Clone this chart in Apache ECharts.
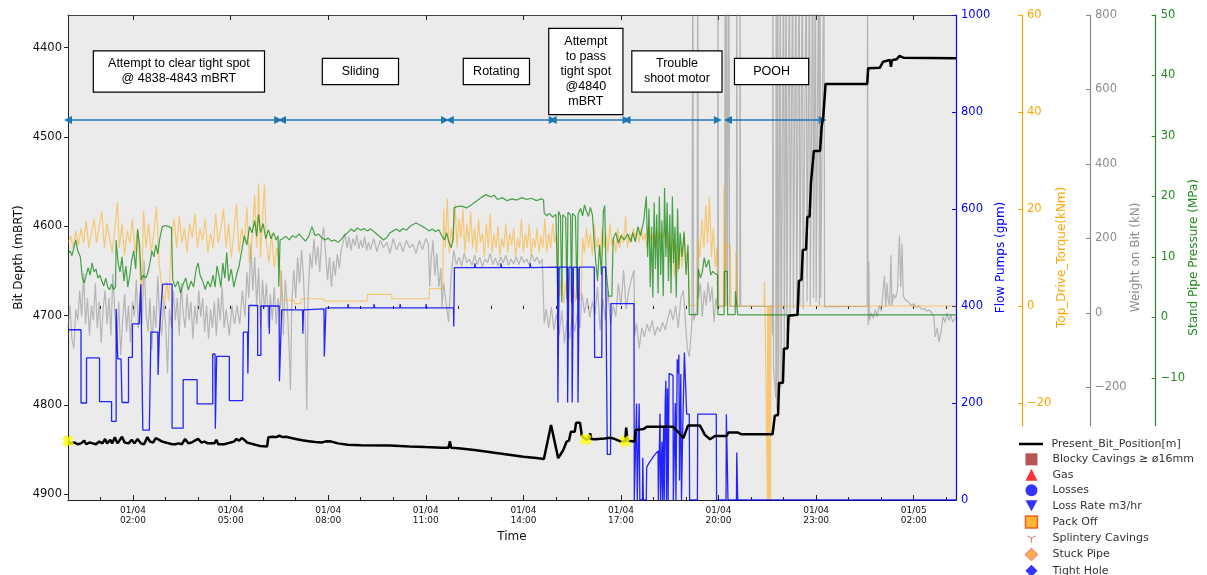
<!DOCTYPE html>
<html>
<head>
<meta charset="utf-8">
<script src="https://cdn.jsdelivr.net/npm/echarts@6/dist/echarts.min.js"></script>
<style>
html, body { margin: 0; padding: 0; background: #fff; }
#root { width: 1207px; height: 575px; }
</style>
</head>
<body>
<div id="root"></div>
<script>
// x values are hours since 01/04 00:00
const timeTicks = [2, 5, 8, 11, 14, 17, 20, 23, 26];
const depthTicks = [4400, 4500, 4600, 4700, 4800, 4900];
const torqueTicks = [-20, 0, 20, 40, 60];
const wobTicks = [-200, 0, 200, 400, 600, 800];
const sppTicks = [-10, 0, 10, 20, 30, 40, 50];

const bitPosition = [
  [0,4841],[0.1,4843],[0.2,4842],[0.3,4844],[0.4,4843],[0.5,4840],[0.56,4844],[0.66,4842],[0.76,4843],[0.86,4844],
  [0.96,4841],[1.06,4843],[1.14,4838],[1.2,4843],[1.3,4839],[1.36,4843],[1.44,4836],[1.52,4843],[1.58,4840],[1.66,4835.5],
  [1.74,4842],[1.86,4843],[1.96,4839],[2.04,4843],[2.14,4838],[2.24,4843],[2.34,4844],[2.44,4836],[2.52,4841],[2.62,4842],
  [2.7,4837],[2.8,4839],[2.9,4841],[3,4842],[3.1,4843],[3.2,4844],[3.3,4844],[3.4,4843],[3.5,4844],[3.6,4838],
  [3.7,4843],[3.8,4842],[3.9,4840],[4,4838],[4.1,4842],[4.2,4841],[4.3,4843],[4.4,4843],[4.5,4843],[4.56,4839],
  [4.62,4844],[4.8,4844],[4.9,4843],[5,4842],[5.1,4841],[5.18,4838],[5.26,4840],[5.34,4837],[5.42,4839],[5.5,4842],
  [5.6,4843],[5.7,4844],[5.8,4845],[5.9,4846],[6.12,4846.5],[6.16,4836],[6.3,4835.5],[6.4,4836],[6.5,4834.5],[6.6,4836],
  [6.7,4835.5],[6.8,4836.5],[7,4838],[7.2,4839.5],[7.4,4840.5],[7.6,4841.5],[7.8,4842],[7.9,4841],[8,4840.5],[8.1,4841],
  [8.3,4843],[8.6,4844.5],[9,4845.2],[9.9,4845.5],[10.5,4846.5],[11,4847.2],[11.5,4847.8],[11.7,4848],[11.74,4840.5],[11.78,4848],
  [12,4848.5],[12.5,4850.5],[13,4853],[13.5,4855.5],[14,4858],[14.4,4859.5],[14.63,4860.4],[14.85,4822.4],[15.07,4859.6],[15.12,4858],
  [15.22,4851],[15.28,4850],[15.33,4841],[15.4,4840],[15.46,4830],[15.58,4829.9],[15.62,4820],[15.74,4819.8],[15.8,4835],[15.92,4838.4],
  [16,4838],[16.05,4831.7],[16.09,4838],[16.2,4838.4],[16.5,4837.5],[16.68,4836.7],[16.8,4838],[16.98,4840.7],[17.13,4840.7],[17.16,4825.4],
  [17.2,4840],[17.42,4841],[17.45,4828],[17.7,4826.8],[17.8,4824.3],[18.6,4824.3],[18.75,4830],[18.92,4837.2],[19.06,4823.1],[19.43,4823.1],
  [19.58,4833.5],[19.74,4838.4],[19.89,4834.8],[20.25,4834.8],[20.3,4830.9],[20.6,4830.9],[20.7,4832.8],[21.66,4832.8],[21.73,4812],[21.83,4811],
  [21.86,4775.5],[21.98,4775],[22.01,4737],[22.12,4736.5],[22.15,4700],[22.43,4699],[22.47,4661],[22.55,4660],[22.59,4626.5],[22.69,4626],
  [22.73,4589.5],[22.8,4589],[22.84,4552],[22.9,4551.8],[22.93,4515.6],[23.12,4515.6],[23.17,4488.4],[23.22,4477.2],[23.29,4440.6],[24.57,4440.6],
  [24.6,4423.1],[24.96,4422.4],[25.06,4415.7],[25.27,4413.8],[25.3,4421.3],[25.33,4414],[25.47,4413],[25.56,4409.3],[25.68,4411.2],[27.3,4411.9]
];

const flowPumps = [
  [0,351],[0.4,351],[0.4,200],[0.57,200],[0.57,293],[0.97,293],[0.97,203],[1.34,203],[1.34,162],[1.48,162],
  [1.48,394],[1.53,394],[1.53,291],[1.63,291],[1.66,201],[1.86,201],[1.86,294],[1.98,294],[1.98,363],[2.19,363],
  [2.24,445],[2.28,445],[2.3,144],[2.5,144],[2.55,346],[2.76,346],[2.77,258],[2.8,258],[2.81,346],[2.86,346],
  [2.91,445],[3.2,445],[3.2,148],[3.54,148],[3.54,248],[3.97,248],[3.97,198],[4.45,198],[4.45,301],[4.52,301],
  [4.53,147],[4.56,147],[4.57,296],[4.96,296],[4.96,205],[5.37,205],[5.39,346],[5.52,346],[5.53,261],[5.55,261],
  [5.56,401],[5.83,401],[5.83,298],[5.93,298],[5.93,400],[6.18,400],[6.19,343],[6.2,400],[6.49,400],[6.5,245],
  [6.56,245],[6.57,392],[7.21,392],[7.22,343],[7.24,392],[7.26,394],[7.87,394],[7.88,296],[7.92,296],[7.93,396],
  [8.6,396],[8.61,404],[8.63,396],[9.4,396],[9.41,404],[9.43,396],[10.2,396],[10.21,404],[10.23,396],[11,396],
  [11.01,404],[11.03,396],[11.85,396],[11.86,358],[11.87,358],[11.88,479],[12.5,479],[12.51,488],[12.53,479],[13.3,479],
  [13.31,488],[13.33,479],[14.2,479],[14.21,488],[14.23,479],[15.05,480],[15.06,201],[15.09,201],[15.1,480],[15.35,480],
  [15.36,201],[15.39,201],[15.4,480],[15.49,480],[15.5,201],[15.53,201],[15.54,480],[15.67,480],[15.68,201],[15.71,201],
  [15.72,480],[16.18,480],[16.19,294],[16.41,294],[16.42,480],[16.53,480],[16.58,94],[16.68,94],[16.69,405],[17.4,405],
  [17.41,0],[17.47,0],[17.48,199],[17.5,0],[17.55,0],[17.56,199],[17.58,0],[17.66,0],[17.67,87],[17.69,0],
  [17.78,0],[17.79,67],[17.85,75],[17.9,80],[17.95,85],[18,90],[18.06,95],[18.14,101],[18.15,0],[18.19,0],
  [18.2,178],[18.22,0],[18.25,0],[18.26,120],[18.28,0],[18.31,150],[18.33,0],[18.36,200],[18.38,246],[18.4,0],
  [18.43,230],[18.45,0],[18.48,261],[18.5,257],[18.6,257],[18.61,0],[18.66,0],[18.67,200],[18.69,0],[18.73,290],
  [18.76,261],[18.78,300],[18.8,40],[18.84,260],[18.86,0],[18.9,150],[18.95,304],[19,300],[19.02,177],[19.1,177],
  [19.11,0],[19.35,0],[19.36,177],[19.93,177],[19.94,0],[20.23,0],[20.24,177],[20.28,177],[20.29,0],[20.55,0],
  [20.56,98],[20.58,98],[20.59,0],[27.3,0]
];

const topDriveTorque = [
  [0,13],[0.08,14.5],[0.16,12],[0.24,15.5],[0.32,12.5],[0.4,16],[0.48,13],[0.56,17.5],[0.64,12],[0.72,15],
  [0.8,18],[0.88,13],[0.96,16.5],[1.04,19.5],[1.12,12],[1.2,17],[1.28,14],[1.36,11],[1.44,16],[1.52,21.4],
  [1.58,12],[1.66,17],[1.74,10.5],[1.82,15.5],[1.9,13],[1.98,18],[2.06,11],[2.14,16],[2.22,7],[2.26,0.5],
  [2.32,19.6],[2.4,12],[2.48,17],[2.56,11],[2.64,15],[2.72,20.5],[2.8,9],[2.88,4],[2.96,0.5],[3.04,5],
  [3.1,1],[3.18,14],[3.26,18],[3.34,12],[3.42,18.5],[3.5,13],[3.58,16],[3.66,11],[3.74,17],[3.82,14],
  [3.9,19],[3.98,12],[4.06,16],[4.14,13.5],[4.22,18],[4.3,11],[4.38,15],[4.46,12],[4.54,19],[4.62,13],
  [4.7,16],[4.78,20],[4.86,12],[4.94,17],[5.02,10],[5.1,15],[5.18,21],[5.26,11],[5.34,16],[5.42,13],
  [5.5,20.4],[5.58,9],[5.66,14],[5.74,23],[5.8,12],[5.86,25.2],[5.92,10],[5.98,18],[6.04,25],[6.1,13],
  [6.18,9],[6.26,15],[6.34,8],[6.42,12],[6.5,9],[6.56,4],[6.6,1.2],[6.95,1.2],[6.96,0.5],[7.16,0.5],
  [7.17,1.5],[7.87,1.5],[7.88,1],[9.2,1],[9.21,2.4],[9.95,2.4],[9.96,1.5],[11.1,1.5],[11.11,3.6],[11.52,3.6],
  [11.55,20],[11.6,12],[11.66,22.2],[11.72,11],[11.78,16],[11.84,13],[11.9,21],[11.96,12],[12.02,18],[12.08,14],
  [12.14,20],[12.2,11],[12.26,17],[12.32,13],[12.38,19.5],[12.44,12],[12.5,16],[12.56,11],[12.62,18],[12.68,13],
  [12.74,15],[12.8,10],[12.86,17],[12.92,12],[12.98,19],[13.04,11],[13.1,15],[13.16,12],[13.22,16.5],[13.28,10.5],
  [13.34,14],[13.4,12],[13.46,17],[13.52,11],[13.58,15],[13.64,12.5],[13.7,16],[13.76,10],[13.82,14],[13.88,12],
  [13.94,18],[14,11],[14.06,15],[14.12,12],[14.18,17],[14.24,10.5],[14.3,14],[14.36,12],[14.42,16],[14.48,11],
  [14.54,14.5],[14.6,12],[14.66,18],[14.72,11],[14.78,15],[14.84,12],[14.9,17],[14.96,13],[15.02,15],[15.06,7],
  [15.12,2],[15.18,6],[15.24,0.5],[15.3,5],[15.36,1],[15.42,7],[15.48,0.5],[15.54,4],[15.6,0.8],[15.66,6],
  [15.72,1],[15.78,3],[15.82,14],[15.88,11],[15.94,16],[16,12],[16.06,15],[16.12,10.5],[16.18,17],[16.24,12],
  [16.3,14],[16.36,10],[16.42,16],[16.48,12],[16.54,15],[16.6,11],[16.66,17],[16.72,12.5],[16.78,14],[16.84,11],
  [16.9,16],[16.96,12],[17.02,15],[17.08,13],[17.14,18.5],[17.2,12],[17.26,15],[17.32,13],[17.38,16],[17.44,14],
  [17.5,15.5],[17.56,13],[17.62,16],[17.68,13.5],[17.74,15],[17.8,12],[17.86,16.5],[17.92,13],[17.98,15],[18.04,12],
  [18.1,16],[18.16,13],[18.22,15],[18.28,14],[18.34,16],[18.4,12],[18.46,15],[18.52,9],[18.58,14],[18.64,6],
  [18.7,13],[18.76,7],[18.82,12],[18.88,8],[18.94,15],[19,10],[19.06,11],[19.1,0.1],[19.35,0.1],[19.37,14],
  [19.43,10],[19.49,18],[19.55,12],[19.61,20.8],[19.66,13],[19.72,22.5],[19.78,10],[19.84,16],[19.9,8],[19.95,12],
  [19.97,0],[20.15,0],[20.17,24.9],[20.2,0],[20.22,12.5],[20.36,12.5],[20.38,0],[20.53,0],[20.54,11.1],[20.57,0],
  [21.4,0],[21.41,5],[21.43,0],[21.49,0],[21.5,-40],[21.51,0],[21.52,-40],[21.53,0],[21.54,-40],[21.55,0],
  [21.56,-40],[21.57,0],[21.58,-40],[21.59,0],[21.6,-40],[21.61,0],[27.3,0]
];

const weightOnBit = [
  [0,-40],[0.06,20],[0.12,-70],[0.18,-95],[0.24,10],[0.3,-20],[0.36,60],[0.42,-10],[0.48,107],[0.54,-30],
  [0.6,40],[0.66,-60],[0.72,20],[0.78,-20],[0.84,80],[0.9,-40],[0.96,30],[1.02,-80],[1.08,10],[1.14,60],
  [1.2,-30],[1.26,40],[1.32,-60],[1.38,105],[1.44,0],[1.5,-70],[1.56,30],[1.62,-113],[1.68,-20],[1.74,50],
  [1.8,-50],[1.86,20],[1.92,-80],[1.98,30],[2.04,-10],[2.1,90],[2.16,-40],[2.22,60],[2.28,-30],[2.34,141],
  [2.4,0],[2.46,-50],[2.52,40],[2.58,-100],[2.64,20],[2.7,-40],[2.76,100],[2.82,-20],[2.88,-60],[2.94,30],
  [3,-30],[3.06,-162],[3.12,10],[3.18,-40],[3.24,60],[3.3,-20],[3.36,40],[3.42,-60],[3.48,80],[3.54,0],
  [3.6,-40],[3.66,50],[3.72,-20],[3.78,30],[3.84,-70],[3.9,20],[3.96,-30],[4.02,60],[4.08,-10],[4.14,40],
  [4.2,-50],[4.26,20],[4.32,-70],[4.38,10],[4.44,-40],[4.5,30],[4.56,-60],[4.62,40],[4.68,-20],[4.74,70],
  [4.8,-40],[4.86,10],[4.96,-60],[5.04,20],[5.12,-30],[5.2,20],[5.28,-30],[5.36,60],[5.44,-10],[5.5,110],
  [5.56,40],[5.62,187],[5.68,60],[5.74,150],[5.8,20],[5.86,120],[5.92,-38],[5.98,90],[6.04,10],[6.1,80],
  [6.16,-40],[6.22,50],[6.28,-20],[6.34,70],[6.4,-30],[6.46,40],[6.52,-10],[6.56,115],[6.62,-60],[6.68,90],
  [6.74,20],[6.8,-100],[6.84,-207],[6.88,30],[6.94,115],[7,40],[7.06,150],[7.12,80],[7.18,170],[7.24,100],
  [7.3,-50],[7.34,-261],[7.38,40],[7.44,160],[7.5,120],[7.56,200],[7.62,130],[7.68,180],[7.74,110],[7.8,200],
  [7.86,230],[7.92,160],[7.98,88],[8.04,150],[8.1,70],[8.16,140],[8.22,100],[8.28,159],[8.34,120],[8.4,170],
  [8.46,190],[8.52,214],[8.58,175],[8.64,205],[8.7,168],[8.76,200],[8.82,180],[8.88,210],[8.94,172],[9,195],
  [9.06,175],[9.12,205],[9.18,168],[9.24,190],[9.3,170],[9.4,200],[9.5,165],[9.6,195],[9.7,175],[9.8,190],
  [9.9,160],[10,200],[10.1,170],[10.2,190],[10.3,165],[10.4,195],[10.5,175],[10.6,185],[10.7,160],[10.8,195],
  [10.9,170],[11,200],[11.08,185],[11.12,70],[11.16,140],[11.22,195],[11.28,100],[11.34,160],[11.4,70],[11.46,120],
  [11.5,16],[11.55,80],[11.62,30],[11.7,-24],[11.78,100],[11.86,168],[11.94,130],[12.02,150],[12.1,125],[12.18,160],
  [12.26,135],[12.34,145],[12.42,128],[12.5,155],[12.58,130],[12.66,150],[12.74,124],[12.82,145],[12.9,135],[12.98,160],
  [13.06,130],[13.14,148],[13.22,126],[13.3,150],[13.38,135],[13.46,155],[13.54,128],[13.62,145],[13.7,132],[13.78,150],
  [13.86,130],[13.94,152],[14.02,135],[14.1,145],[14.18,128],[14.26,158],[14.34,138],[14.42,150],[14.5,132],[14.58,145],
  [14.62,140],[14.64,-28],[14.7,10],[14.78,-40],[14.86,16],[14.94,-46],[15.02,0],[15.1,-60],[15.18,7],[15.26,-82],
  [15.34,-20],[15.42,-70],[15.5,-10],[15.58,-50],[15.66,0],[15.74,-40],[15.8,53],[15.88,0],[15.96,40],[16.04,-11],
  [16.12,30],[16.2,-5],[16.28,70],[16.36,-46],[16.44,40],[16.52,-20],[16.6,60],[16.68,-30],[16.76,20],[16.84,-10],
  [16.92,80],[17,20],[17.08,115],[17.16,10],[17.24,60],[17.32,90],[17.4,115],[17.42,-60],[17.48,-28],[17.56,-96],
  [17.64,-40],[17.72,-64],[17.8,-30],[17.88,-50],[17.96,-20],[18.04,-60],[18.12,-37],[18.2,-50],[18.28,-25],[18.36,-45],
  [18.44,-15],[18.52,10],[18.6,-20],[18.68,20],[18.76,-40],[18.84,40],[18.92,60],[18.98,-20],[19.04,-95],[19.1,-118],
  [19.18,-30],[19.21,1000],[19.23,-20],[19.34,10],[19.36,1000],[19.38,40],[19.44,80],[19.5,-10],[19.56,60],[19.62,20],
  [19.68,83],[19.74,30],[19.8,70],[19.86,-24],[19.92,40],[19.97,10],[19.98,1000],[20,18],[20.19,18],[20.2,1000],
  [20.22,18],[20.25,1000],[20.27,18],[20.32,1000],[20.34,18],[20.55,18],[20.56,1000],[20.58,18],[20.65,18],[20.66,1000],
  [20.68,18],[21.64,18],[21.66,-60],[21.67,1000],[21.69,-150],[21.76,-229],[21.77,1000],[21.79,-260],[21.82,1000],[21.84,-280],
  [21.9,1000],[21.92,-200],[22,1000],[22.02,-120],[22.08,1000],[22.1,-60],[22.18,1000],[22.2,-20],[22.28,1000],[22.3,10],
  [22.38,1000],[22.4,0],[22.48,1000],[22.5,20],[22.58,1000],[22.6,10],[22.7,1000],[22.72,30],[22.8,1000],[22.82,20],
  [22.9,1000],[22.92,40],[22.98,1000],[23,30],[23.08,1000],[23.1,20],[23.12,1000],[23.14,40],[23.24,1000],[23.26,17],
  [24.57,18],[24.58,1000],[24.6,-33],[24.62,137],[24.64,-20],[24.7,0],[24.76,-15],[24.82,10],[24.88,-10],[24.94,20],
  [25,5],[25.06,60],[25.1,100],[25.14,16],[25.18,80],[25.22,30],[25.26,20],[25.3,155],[25.33,20],[25.38,50],
  [25.44,40],[25.5,60],[25.56,209],[25.6,70],[25.64,186],[25.68,45],[25.76,34],[25.84,30],[25.92,20],[26,25],
  [26.08,15],[26.16,20],[26.24,10],[26.32,12],[26.4,5],[26.48,8],[26.56,0],[26.62,-10],[26.66,-64],[26.72,-40],
  [26.78,-78],[26.84,-50],[26.9,-10],[26.96,-25],[27.02,0],[27.08,-20],[27.14,-5],[27.2,-25],[27.3,-10]
];

const standPipePressure = [
  [0,10.5],[0.06,11],[0.12,10.2],[0.18,11.5],[0.24,12.8],[0.3,11],[0.38,10],[0.44,6.5],[0.5,5.7],[0.56,7],
  [0.62,8.2],[0.68,7],[0.74,9],[0.8,7.5],[0.86,8],[0.92,6.5],[0.98,7],[1.04,6],[1.1,5.2],[1.16,6.5],
  [1.22,5],[1.28,4.6],[1.34,5.5],[1.4,4.6],[1.46,5],[1.48,12.8],[1.54,9],[1.6,7.5],[1.66,10],[1.72,6],
  [1.78,8.5],[1.84,5],[1.9,7],[1.96,9.5],[2.02,11],[2.08,8],[2.14,14.5],[2.2,12],[2.25,6.2],[2.32,7],
  [2.4,6.5],[2.46,7.5],[2.52,9],[2.58,11],[2.64,10],[2.7,12],[2.76,10.5],[2.82,13],[2.9,15],[3,15.2],
  [3.1,15],[3.18,14.8],[3.22,6.2],[3.3,5],[3.38,6],[3.46,4],[3.54,5.5],[3.62,6.5],[3.7,4.5],[3.78,6],
  [3.86,5],[3.94,8],[4,9],[4.06,7],[4.14,6],[4.22,4.6],[4.3,6],[4.38,5],[4.46,7],[4.52,5],
  [4.58,8.5],[4.64,7],[4.7,5],[4.76,9],[4.82,6.5],[4.88,10.7],[4.94,6],[5.02,8],[5.1,5],[5.18,7],
  [5.26,8.5],[5.34,11],[5.42,13.5],[5.5,12],[5.58,15],[5.66,14],[5.74,16],[5.8,13.4],[5.86,17],[5.92,14],
  [6,15.5],[6.08,13],[6.16,14.5],[6.24,13],[6.32,14],[6.4,12.8],[6.46,13.5],[6.48,5.1],[6.52,12.8],[6.6,13],
  [6.7,13.4],[6.8,12.8],[6.9,13.5],[7,13.2],[7.1,13.8],[7.2,13.2],[7.3,12.6],[7.4,13.4],[7.5,15],[7.6,13.5],
  [7.7,13.8],[7.8,13.2],[7.9,12.8],[8,13.1],[8.1,12.6],[8.2,12.8],[8.3,12.4],[8.4,12.9],[8.5,13.6],[8.6,14],
  [8.7,14.6],[8.8,14.2],[8.9,14.8],[9,14.4],[9.1,14.7],[9.2,14.3],[9.3,14.6],[9.4,14.2],[9.55,13.5],[9.7,12.8],
  [9.8,13.2],[9.9,14],[10,14.3],[10.1,14.6],[10.2,14.2],[10.3,14.7],[10.4,14.4],[10.55,15.2],[10.7,15.6],[10.85,15.2],
  [11,14.7],[11.1,14.3],[11.2,14.6],[11.3,14.2],[11.4,14.5],[11.5,13.4],[11.58,12.8],[11.64,14],[11.7,12.6],[11.78,11.5],
  [11.84,13],[11.87,18.1],[11.95,18.3],[12.1,18.4],[12.25,18.1],[12.4,18.6],[12.55,19.2],[12.7,19.8],[12.85,20.3],[13,19.9],
  [13.1,20.2],[13.2,19.5],[13.35,19.8],[13.5,19.3],[13.65,19.6],[13.8,19.4],[13.95,19.8],[14.1,19.5],[14.25,19.7],[14.4,19.3],
  [14.55,19.6],[14.62,19.4],[14.64,17.3],[14.72,16.8],[14.8,17.2],[14.9,16.6],[15,17],[15.05,16.8],[15.06,3],[15.08,17.5],
  [15.14,16.8],[15.18,2.5],[15.21,17],[15.3,16.5],[15.34,3],[15.37,17.4],[15.45,16.9],[15.48,2.4],[15.51,17.2],[15.6,16.7],
  [15.65,3],[15.68,17],[15.76,18],[15.82,16.8],[15.88,18.6],[15.94,17.5],[16,16.7],[16.06,18.2],[16.12,17],[16.18,16.8],
  [16.22,9.5],[16.28,6],[16.34,12],[16.4,7],[16.46,17.5],[16.5,18.5],[16.54,8],[16.58,5.7],[16.62,3.5],[16.72,3.5],
  [16.76,13],[16.84,14],[16.92,12.3],[17,13.5],[17.1,12.8],[17.2,13.8],[17.3,12.5],[17.36,14],[17.44,12.5],[17.52,15],
  [17.6,13.5],[17.7,16],[17.78,20],[17.82,10],[17.86,18],[17.9,5],[17.94,15],[17.98,3.3],[18.02,19],[18.06,8],
  [18.1,17],[18.14,4],[18.18,20],[18.22,7],[18.26,16],[18.3,3.5],[18.34,21.4],[18.38,10],[18.42,19],[18.46,6],
  [18.5,17],[18.54,4],[18.58,20],[18.62,9],[18.66,15],[18.7,3.3],[18.74,18],[18.78,8],[18.82,14],[18.88,10],
  [18.94,14.2],[19,7],[19.06,12],[19.1,0.45],[19.36,0.45],[19.38,8],[19.44,6.5],[19.5,7.5],[19.56,9.9],[19.62,8.3],
  [19.7,9.5],[19.76,7],[19.82,7.6],[19.9,7.2],[19.97,7],[19.98,0.45],[20.17,0.45],[20.18,7.6],[20.27,7.6],[20.28,0.45],
  [20.51,0.45],[20.52,4.3],[20.58,4.3],[20.59,0.4],[27.3,0.4]
];

const yellowMarks = [[0, 4840.3], [15.92, 4838.4], [17.13, 4840.7]];

// activity phases: arrow spans (hours) and box captions
const phaseSpans = [[0, 6.46], [6.58, 11.59], [11.74, 14.9], [14.9, 17.17], [17.17, 19.98], [20.29, 23.2]];
const phaseNames = [
  'Attempt to clear tight spot\n@ 4838-4843 mBRT', 'Sliding', 'Rotating',
  'Attempt\nto pass\ntight spot\n@4840\nmBRT', 'Trouble\nshoot motor', 'POOH'
];
const phaseCenters = [3.41, 8.99, 13.17, 15.92, 18.72, 21.63];
const boxWidths = [170, 75, 65, 73, 89, 73];
const arrowDepth = 4481;
const boxDepth = 4426.6;

const eventNames = ['Blocky Cavings ≥ ø16mm', 'Gas', 'Losses', 'Loss Rate m3/hr', 'Pack Off',
  'Splintery Cavings', 'Stuck Pipe', 'Tight Hole'];

const plain = v => String(v).replace('-', '\u2212');
const timeLabel = v => {
  const day = 4 + Math.floor(v / 24);
  const hh = v % 24;
  return '01/0' + day + '\n' + (hh < 10 ? '0' : '') + hh + ':00';
};

const root = document.getElementById('root');
const myChart = echarts.init(root);

const xCommon = { type: 'value', min: 0, max: 27.3, splitLine: { show: false } };
const sideGrid = (left) => ({ left: left, top: 15, width: 10, height: 410.7, outerBoundsMode: 'none' });
const sideAxis = (grid, min, max, ticks, color, name, gap) => ({
  gridIndex: grid, type: 'value', min: min, max: max, position: 'right',
  axisLine: { show: true, onZero: false, lineStyle: { color: color, width: 1.2 } },
  axisTick: { show: true, inside: true, length: 4, customValues: ticks, lineStyle: { color: color } },
  axisLabel: { customValues: ticks, color: color, fontSize: 11.5, margin: 5, formatter: plain },
  splitLine: { show: false },
  name: name, nameLocation: 'middle', nameGap: gap, nameMoveOverlap: false,
  nameTextStyle: { color: color, fontSize: 12, padding: [0, 74, 0, 0] }
});
const lineSeries = (name, data, yIdx, color, width, z) => ({
  name: name, type: 'line', data: data, xAxisIndex: 0, yAxisIndex: yIdx,
  symbol: 'none', showSymbol: false, silent: true, z: z, clip: true,
  lineStyle: { color: color, width: width }, itemStyle: { color: color }
});

let option = {
  animation: false,
  backgroundColor: '#fff',
  textStyle: { fontFamily: 'DejaVu Sans' },
  grid: [
    { left: 68, top: 15, width: 888, height: 485, show: true, backgroundColor: '#ebebeb', borderWidth: 0, outerBoundsMode: 'none' },
    sideGrid(1012), sideGrid(1080), sideGrid(1145.7)
  ],
  xAxis: [
    Object.assign({}, xCommon, {
      gridIndex: 0, position: 'bottom',
      axisLine: { show: true, onZero: false, lineStyle: { color: '#222' } },
      axisTick: { show: true, inside: true, length: 5, customValues: timeTicks, lineStyle: { color: '#222' } },
      axisLabel: { customValues: timeTicks, formatter: timeLabel, color: '#111', fontSize: 9, lineHeight: 10.5, margin: 5 },
      name: 'Time', nameLocation: 'middle', nameGap: 31, nameMoveOverlap: false,
      nameTextStyle: { color: '#111', fontSize: 12 }
    }),
    Object.assign({}, xCommon, {
      gridIndex: 0, position: 'bottom', interval: 1,
      axisLine: { show: false }, axisLabel: { show: false },
      axisTick: { show: true, inside: true, length: 3, lineStyle: { color: '#222' } }
    }),
    Object.assign({}, xCommon, {
      gridIndex: 0, position: 'top',
      axisLine: { show: true, onZero: false, lineStyle: { color: '#444' } },
      axisTick: { show: true, inside: true, length: 5, customValues: timeTicks, lineStyle: { color: '#222' } },
      axisLabel: { show: false }
    }),
    Object.assign({}, xCommon, {
      gridIndex: 0, position: 'top', interval: 1,
      axisLine: { show: false }, axisLabel: { show: false },
      axisTick: { show: true, inside: true, length: 3, lineStyle: { color: '#222' } }
    }),
    { gridIndex: 1, type: 'value', show: false, min: 0, max: 1 },
    { gridIndex: 2, type: 'value', show: false, min: 0, max: 1 },
    { gridIndex: 3, type: 'value', show: false, min: 0, max: 1 }
  ],
  yAxis: [
    {
      gridIndex: 0, type: 'value', inverse: true, min: 4363.4, max: 4906.4, position: 'left',
      axisLine: { show: true, onZero: false, lineStyle: { color: '#222' } },
      axisTick: { show: true, inside: false, length: 4, customValues: depthTicks, lineStyle: { color: '#222' } },
      axisLabel: { customValues: depthTicks, color: '#111', fontSize: 11.5, margin: 6, formatter: plain },
      splitLine: { show: false },
      name: 'Bit Depth (mBRT)', nameLocation: 'middle', nameGap: 43, nameMoveOverlap: false,
      nameTextStyle: { color: '#111', fontSize: 12 }
    },
    {
      gridIndex: 0, type: 'value', min: 0, max: 1000, interval: 200, position: 'right',
      axisLine: { show: true, onZero: false, lineStyle: { color: '#0000ff', width: 1.2 } },
      axisTick: { show: true, inside: true, length: 4, lineStyle: { color: '#0000ff' } },
      axisLabel: { color: '#0000ff', fontSize: 11.5, margin: 5, formatter: plain },
      splitLine: { show: false },
      name: 'Flow Pumps (gpm)', nameLocation: 'middle', nameGap: 39, nameMoveOverlap: false,
      nameTextStyle: { color: '#0000ff', fontSize: 12 }
    },
    { gridIndex: 0, type: 'value', min: -40, max: 60, show: false },
    { gridIndex: 0, type: 'value', min: -502, max: 800, show: false },
    { gridIndex: 0, type: 'value', min: -30.2, max: 50, show: false },
    sideAxis(1, -24.7, 60, torqueTicks, '#ffa500', 'Top_Drive_Torque(kNm)', 34),
    sideAxis(2, -302.6, 800, wobTicks, '#8c8c8c', 'Weight on Bit (kN)', 40),
    sideAxis(3, -17.9, 50, sppTicks, '#228b22', 'Stand Pipe Pressure (MPa)', 32)
  ],
  legend: [
    {
      data: [{ name: 'Present_Bit_Position[m]',
        icon: 'path://M0,0h0.01v0.01h-0.01z M0,4.8H24V7.2H0Z M23.99,11.99h0.01v0.01h-0.01z' }],
      orient: 'vertical', left: 1019, top: 438, padding: 0,
      itemWidth: 24, itemHeight: 12, selectedMode: false,
      textStyle: { fontSize: 11, color: '#333', lineHeight: 12, padding: [0, 0, 0, 3.5] }
    },
    {
      data: [
        { name: eventNames[0], icon: 'rect' },
        { name: eventNames[1], icon: 'triangle' },
        { name: eventNames[2], icon: 'circle' },
        { name: eventNames[3], icon: 'path://M0,0L12,0L6,11Z' },
        { name: eventNames[4], icon: 'rect', itemStyle: { color: '#ffa500', borderColor: '#e8400c', borderWidth: 1.5 } },
        { name: eventNames[5], icon: 'path://M0,0h0.01v0.01h-0.01z M12,12h0.01v0.01h-0.01z M5.5,6L5.5,10.5L6.5,10.5L6.5,6L10.3,3.9L9.8,3.1L6,5.1L2.2,3.1L1.7,3.9Z' },
        { name: eventNames[6], icon: 'diamond', itemStyle: { color: '#ff9f1a', borderColor: '#f08080', borderWidth: 1.5 } },
        { name: eventNames[7], icon: 'diamond' }
      ],
      orient: 'vertical', left: 1024.7, top: 453.3, height: 130, padding: 0,
      itemWidth: 12, itemHeight: 12, itemGap: 3.5, selectedMode: false,
      textStyle: { fontSize: 11, color: '#333', lineHeight: 12, padding: [0, 0, 0, 10] }
    }
  ],
  series: [
    lineSeries('Weight on Bit', weightOnBit, 3, 'rgba(128,128,128,0.5)', 1.2, 2),
    lineSeries('Top_Drive_Torque', topDriveTorque, 2, 'rgba(255,165,0,0.5)', 1.2, 3),
    lineSeries('Stand Pipe Pressure', standPipePressure, 4, 'rgba(0,128,0,0.7)', 1.2, 4),
    lineSeries('Flow Pumps', flowPumps, 1, 'rgba(0,0,255,0.85)', 1.3, 5),
    lineSeries('Present_Bit_Position[m]', bitPosition, 0, '#000', 2.5, 6),
    {
      name: 'marks', type: 'scatter', data: yellowMarks, xAxisIndex: 0, yAxisIndex: 0, z: 7, silent: true,
      symbol: 'path://M0,3L3,0L5,2L7,0L10,3L8,5L10,7L7,10L5,8L3,10L0,7L2,5Z', symbolSize: 12,
      itemStyle: { color: '#ffff00' }
    },
    {
      name: 'phases', type: 'line', data: [], xAxisIndex: 0, yAxisIndex: 0, z: 8, silent: true,
      markLine: {
        silent: true, symbol: ['triangle', 'triangle'], symbolSize: 8, animation: false,
        lineStyle: { color: '#1f77b4', width: 1.5, type: 'solid' },
        label: { show: false },
        emphasis: { disabled: true },
        data: phaseSpans.map(s => [{ coord: [s[0], arrowDepth] }, { coord: [s[1], arrowDepth] }])
      },
      markPoint: {
        silent: true, symbol: 'rect', symbolSize: 0, animation: false,
        label: {
          show: true, position: 'inside', formatter: p => p.name,
          color: '#000', fontFamily: 'Liberation Sans', fontSize: 12.5, lineHeight: 15,
          backgroundColor: '#fff', borderColor: '#000', borderWidth: 1.2, padding: [5, 0],
          align: 'center', verticalAlign: 'middle'
        },
        data: phaseNames.map((t, i) => ({ name: t, coord: [phaseCenters[i], boxDepth], label: { width: boxWidths[i] } }))
      }
    },
    { name: eventNames[0], type: 'scatter', data: [], itemStyle: { color: '#a52a2a' } },
    { name: eventNames[1], type: 'scatter', data: [], itemStyle: { color: '#ff0000' } },
    { name: eventNames[2], type: 'scatter', data: [], itemStyle: { color: '#0000ff' } },
    { name: eventNames[3], type: 'scatter', data: [], itemStyle: { color: '#0000ff' } },
    { name: eventNames[4], type: 'scatter', data: [], itemStyle: { color: '#ffa500', borderColor: '#e8400c', borderWidth: 1.5 } },
    { name: eventNames[5], type: 'scatter', data: [], itemStyle: { color: '#c0504d' } },
    { name: eventNames[6], type: 'scatter', data: [], itemStyle: { color: '#ff9f1a', borderColor: '#f08080', borderWidth: 1.5 } },
    { name: eventNames[7], type: 'scatter', data: [], itemStyle: { color: '#0000ff' } }
  ]
};
myChart.setOption(option);
</script>
</body>
</html>
